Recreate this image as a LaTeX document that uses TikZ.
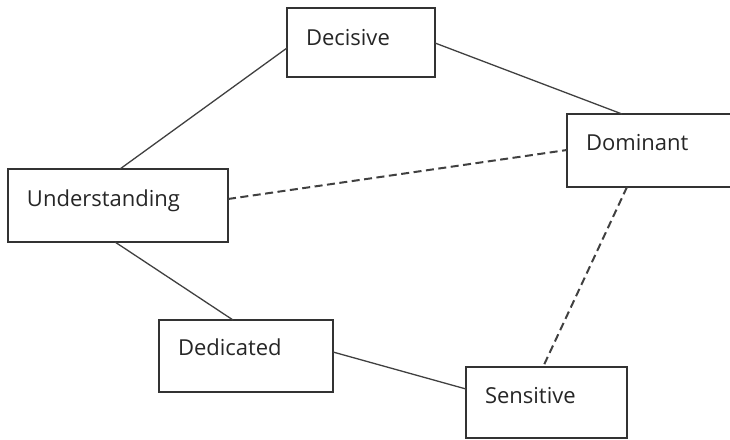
\documentclass[tikz,border=0pt]{standalone}
\usepackage{fontspec}
\setmainfont{Open Sans}
\usetikzlibrary{calc}
\begin{document}
\begin{tikzpicture}[x=1pt,y=-1pt,
		box/.style={draw=black!80,line width=1.5pt,anchor=north west,outer sep=0pt,inner xsep=19pt,inner ysep=0pt,align=left,text=black!85,font=\fontsize{22}{26}\selectfont},
		link/.style={draw=black!75,line width=1.3pt},
		dlink/.style={draw=black!75,line width=2pt,dash pattern=on 8pt off 4.5pt}]
			\useasboundingbox (0,0) rectangle (730,439);
			\node [box,text width=110pt,text height=37pt,text depth=32pt] (dec) at (287,8) {Decisive};
			\node [box,text width=128pt,text height=36pt,text depth=37pt] (dom) at (567,114) {Dominant};
			\node [box,text width=182pt,text height=37pt,text depth=36pt] (und) at (8,169) {Understanding};
			\node [box,text width=136pt,text height=35pt,text depth=37pt] (ded) at (159,320) {Dedicated};
			\node [box,text width=123pt,text height=36pt,text depth=35pt] (sen) at (466,367) {Sensitive};
			\draw [link] ($(dec.north west)+(0,40)$) -- ($(und.north west)+(112,0)$);
			\draw [link] ($(dec.north east)+(0,35)$) -- ($(dom.north west)+(55,0)$);
			\draw [dlink] ($(und.north east)+(0,30)$) -- ($(dom.north west)+(0,36)$);
			\draw [dlink] ($(dom.south west)+(60,0)$) -- ($(sen.north west)+(77,0)$);
			\draw [link] ($(und.south west)+(107,0)$) -- ($(ded.north west)+(74,0)$);
			\draw [link] ($(ded.north east)+(0,32)$) -- ($(sen.north west)+(0,22)$);
		\end{tikzpicture}
\end{document}
